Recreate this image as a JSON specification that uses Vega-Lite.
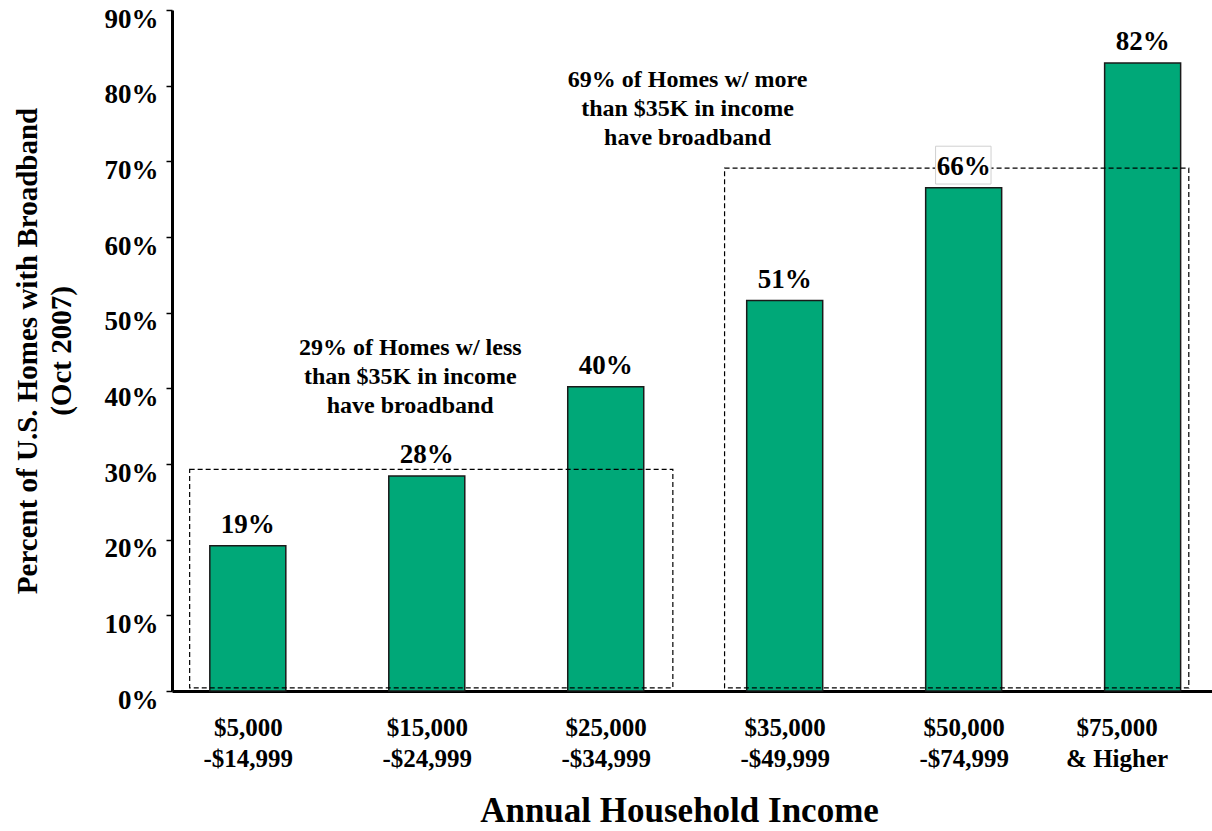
{
  "$schema": "https://vega.github.io/schema/vega-lite/v6.json",
  "autosize": "none",
  "width": 1040,
  "height": 681,
  "padding": {"left": 172, "top": 10, "right": 0, "bottom": 140},
  "background": "white",
  "config": {
    "view": {"stroke": null},
    "font": "Liberation Serif"
  },
  "datasets": {
    "bars": [
      {"idx": 0, "income": "$5,000 -$14,999", "value": 19.2, "label": "19%"},
      {"idx": 1, "income": "$15,000 -$24,999", "value": 28.4, "label": "28%"},
      {"idx": 2, "income": "$25,000 -$34,999", "value": 40.2, "label": "40%"},
      {"idx": 3, "income": "$35,000 -$49,999", "value": 51.6, "label": "51%"},
      {"idx": 4, "income": "$50,000 -$74,999", "value": 66.5, "label": "66%"},
      {"idx": 5, "income": "$75,000 & Higher", "value": 83.0, "label": "82%"}
    ],
    "groups": [
      {"group": "below $35K", "x1": -0.325, "x2": 2.375, "top": 29.3, "bottom": 0.4},
      {"group": "above $35K", "x1": 2.664, "x2": 5.258, "top": 69.1, "bottom": 0.4}
    ],
    "notes": [
      {"x": 0.9076, "y": 45.3, "text": ["29% of Homes w/ less", "than $35K in income", "have broadband"]},
      {"x": 2.457, "y": 80.7, "text": ["69% of Homes w/ more", "than $35K in income", "have broadband"]}
    ],
    "labelbox": [
      {"x1": 3.843, "x2": 4.153, "y1": 67.0, "y2": 72.0}
    ]
  },
  "layer": [
    {
      "data": {"name": "bars"},
      "mark": {"type": "bar", "size": 76, "color": "#00A878", "stroke": "#1a1a1a", "strokeWidth": 1.5},
      "encoding": {
        "x": {
          "field": "idx", "type": "quantitative",
          "scale": {"domain": [-0.3957, 5.3597], "nice": false, "zero": false},
          "axis": {
            "values": [0, 1, 2, 3, 4, 5],
            "ticks": false,
            "grid": false,
            "domainColor": "black",
            "domainWidth": 3,
            "labelExpr": "[['$5,000','-$14,999'],['$15,000','-$24,999'],['$25,000','-$34,999'],['$35,000','-$49,999'],['$50,000','-$74,999'],['$75,000','& Higher']][datum.value]",
            "labelFont": "Liberation Serif",
            "labelFontSize": 25,
            "labelFontWeight": "bold",
            "labelColor": "black",
            "labelLineHeight": 31,
            "labelPadding": 24,
            "labelOffset": {"condition": {"test": "datum.value == 5", "value": -26}, "value": 0},
            "title": "Annual Household Income",
            "titleFont": "Liberation Serif",
            "titleFontSize": 35,
            "titleFontWeight": "bold",
            "titleColor": "black",
            "titleX": 507,
            "titleY": 130,
            "titleAlign": "center",
            "titleBaseline": "alphabetic"
          }
        },
        "y": {
          "field": "value", "type": "quantitative",
          "scale": {"domain": [0, 90], "nice": false},
          "axis": {
            "values": [0, 10, 20, 30, 40, 50, 60, 70, 80, 90],
            "labelExpr": "datum.value + '%'",
            "grid": false,
            "domainColor": "black",
            "domainWidth": 3,
            "tickColor": "black",
            "tickWidth": 1.5,
            "tickSize": 6,
            "labelFont": "Liberation Serif",
            "labelFontSize": 27,
            "labelFontWeight": "bold",
            "labelColor": "black",
            "labelPadding": 8,
            "labelOffset": 9,
            "title": ["Percent of U.S. Homes with Broadband", "(Oct 2007)"],
            "titleFont": "Liberation Serif",
            "titleFontSize": 29,
            "titleFontWeight": "bold",
            "titleColor": "black",
            "titleLineHeight": 34,
            "titlePadding": 28
          }
        }
      }
    },
    {
      "data": {"name": "groups"},
      "mark": {"type": "rect", "fill": null, "fillOpacity": 0, "stroke": "black", "strokeWidth": 1.2, "strokeDash": [5, 3]},
      "encoding": {
        "x": {"field": "x1", "type": "quantitative"},
        "x2": {"field": "x2"},
        "y": {"field": "top", "type": "quantitative"},
        "y2": {"field": "bottom"}
      }
    },
    {
      "data": {"name": "labelbox"},
      "mark": {"type": "rect", "fill": "white", "stroke": "#d0d0d0", "strokeWidth": 1},
      "encoding": {
        "x": {"field": "x1", "type": "quantitative"},
        "x2": {"field": "x2"},
        "y": {"field": "y1", "type": "quantitative"},
        "y2": {"field": "y2"}
      }
    },
    {
      "data": {"name": "bars"},
      "mark": {"type": "text", "baseline": "alphabetic", "align": "center", "dy": -13, "font": "Liberation Serif", "fontSize": 27, "fontWeight": "bold", "color": "black"},
      "encoding": {
        "x": {"field": "idx", "type": "quantitative"},
        "y": {"field": "value", "type": "quantitative"},
        "text": {"field": "label"}
      }
    },
    {
      "data": {"name": "notes"},
      "mark": {"type": "text", "baseline": "middle", "align": "center", "font": "Liberation Serif", "fontSize": 24, "fontWeight": "bold", "lineHeight": 29, "color": "black"},
      "encoding": {
        "x": {"field": "x", "type": "quantitative"},
        "y": {"field": "y", "type": "quantitative"},
        "text": {"field": "text"}
      }
    },
    {
      "mark": {"type": "rule", "color": "black", "strokeWidth": 2.5},
      "encoding": {"y": {"datum": 90}}
    }
  ]
}
